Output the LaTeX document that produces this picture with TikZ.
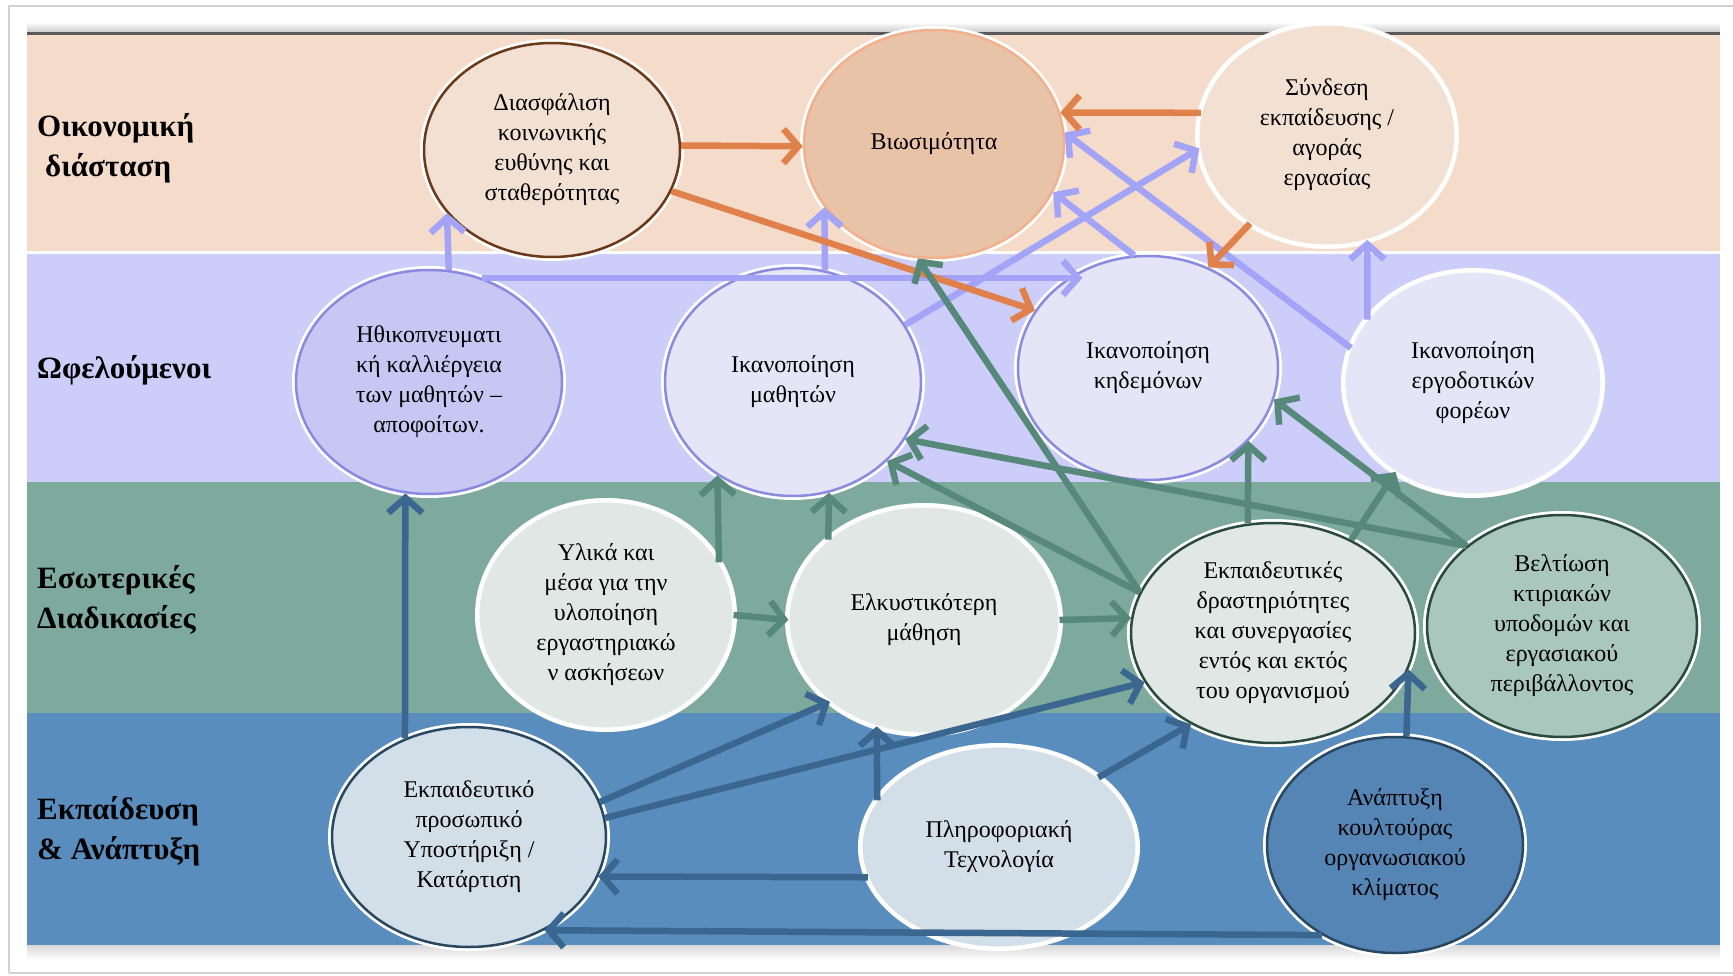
\documentclass[tikz,border=0pt]{standalone}
\usepackage{fontspec}
\setmainfont{Liberation Serif}
\usetikzlibrary{shapes.geometric,arrows.meta,shadows}

\definecolor{bandEcon}{HTML}{F5DCCA}
\definecolor{bandBen}{HTML}{CDCDFA}
\definecolor{bandProc}{HTML}{7DAA9D}
\definecolor{bandDev}{HTML}{598DBE}
\definecolor{arrOrange}{HTML}{E0804A}
\definecolor{arrLav}{HTML}{A3A3F7}
\definecolor{arrGreen}{HTML}{568979}
\definecolor{arrBlue}{HTML}{3A6690}
\definecolor{fillPeach}{HTML}{F2E0D3}
\definecolor{fillTan}{HTML}{E9C3A8}
\definecolor{fillLavDark}{HTML}{C7C7F3}
\definecolor{fillLav}{HTML}{E5E5F7}
\definecolor{fillGrey}{HTML}{E0E7E4}
\definecolor{fillSage}{HTML}{A9C7BD}
\definecolor{fillIce}{HTML}{D2DFE9}
\definecolor{fillSteel}{HTML}{5585B5}
\definecolor{outBrown}{HTML}{6B3819}
\definecolor{outOrange}{HTML}{F2B08C}
\definecolor{outPurple}{HTML}{8A8AE0}
\definecolor{outGreen}{HTML}{2B4A3E}
\definecolor{outNavy}{HTML}{284862}

\newcommand{\nodefont}{\fontsize{24}{30}\selectfont}
\newcommand{\bandfont}{\fontsize{31}{40}\selectfont\bfseries}

\begin{document}
\begin{tikzpicture}[x=1pt,y=-1pt,
  labelsty/.style={anchor=west,align=left,font=\bandfont,inner sep=0pt},
  circ/.style n args={3}{ellipse,inner sep=0pt,align=center,font=\nodefont,
    fill=#1,draw=#2,line width=#3,
    drop shadow={opacity=0.25,shadow xshift=2pt,shadow yshift=-3pt},
    preaction={draw=white,line width=8pt}},
  sz/.style 2 args={minimum width=#1,minimum height=#2},
  conn/.style={line width=6.5pt,-{Straight Barb[length=15pt,width=34pt]}},
  lavarr/.style={conn,draw=arrLav},
  orarr/.style={conn,draw=arrOrange},
  grarr/.style={conn,draw=arrGreen},
  blarr/.style={conn,draw=arrBlue}]

  \useasboundingbox (0,0) rectangle (1733,976);
  \fill[white] (0,0) rectangle (1733,976);
  \draw[gray!35,line width=1.5pt] (9,973) -- (9,6) -- (1733,6);
  \draw[gray!35,line width=1.5pt] (9,973) -- (1733,973);

  \shade[top color=white,bottom color=gray!45] (27,22) rectangle (1720,33);
  \fill[black!65] (27,32) rectangle (1720,35);
  \fill[bandEcon] (27,35) rectangle (1720,251);
  \fill[bandBen] (27,254) rectangle (1720,482);
  \fill[bandProc] (27,482) rectangle (1720,713);
  \fill[bandDev] (27,713) rectangle (1720,945);
  \shade[top color=gray!30,bottom color=white] (27,945) rectangle (1720,960);

  \node[labelsty] (lblecon) at (37,148) {Οικονομική\\\hspace*{8pt}διάσταση};
  \node[labelsty] (lblben) at (37,370) {Ωφελούμενοι};
  \node[labelsty] (lblproc) at (37,600) {Εσωτερικές\\Διαδικασίες};
  \node[labelsty] (lbldev) at (37,831) {Εκπαίδευση\\\& Ανάπτυξη};

  \node[circ={fillPeach}{outBrown}{2.5pt},sz={256pt}{214pt}] (diasf) at (552,150)
    {Διασφάλιση\\κοινωνικής\\ευθύνης και\\σταθερότητας};
  \node[circ={fillTan}{outOrange}{2.5pt},sz={260pt}{228pt}] (biosim) at (934,144)
    {Βιωσιμότητα};
  \node[circ={fillPeach}{white}{1pt},sz={256pt}{220pt}] (syndesi) at (1327,135)
    {Σύνδεση\\εκπαίδευσης /\\αγοράς\\εργασίας};

  \node[circ={fillLavDark}{outPurple}{2.5pt},sz={266pt}{224pt}] (ethik) at (429,382)
    {Ηθικοπνευματι\\κή καλλιέργεια\\των μαθητών –\\αποφοίτων.};
  \node[circ={fillLav}{outPurple}{2.5pt},sz={256pt}{228pt}] (mathit) at (793,382)
    {Ικανοποίηση\\μαθητών};
  \node[circ={fillLav}{outPurple}{2.5pt},sz={260pt}{224pt}] (kidem) at (1148,368)
    {Ικανοποίηση\\κηδεμόνων};
  \node[circ={fillLav}{white}{1pt},sz={256pt}{222pt}] (ergod) at (1473,383)
    {Ικανοποίηση\\εργοδοτικών\\φορέων};

  \node[circ={fillGrey}{white}{1pt},sz={254pt}{226pt}] (ylika) at (606,615)
    {Υλικά και\\μέσα για την\\υλοποίηση\\εργαστηριακώ\\ν ασκήσεων};
  \node[circ={fillGrey}{white}{1pt},sz={270pt}{226pt}] (elkys) at (924,620)
    {Ελκυστικότερη\\μάθηση};
  \node[circ={fillGrey}{outGreen}{2.5pt},sz={284pt}{220pt}] (drast) at (1273,633)
    {Εκπαιδευτικές\\δραστηριότητες\\και συνεργασίες\\εντός και εκτός\\του οργανισμού};
  \node[circ={fillSage}{outGreen}{2.5pt},sz={270pt}{222pt}] (veltio) at (1562,626)
    {Βελτίωση\\κτιριακών\\υποδομών και\\εργασιακού\\περιβάλλοντος};

  \node[circ={fillIce}{outNavy}{2.5pt},sz={274pt}{220pt}] (ekpp) at (469,837)
    {Εκπαιδευτικό\\προσωπικό\\Υποστήριξη /\\Κατάρτιση};
  \node[circ={fillIce}{white}{1pt},sz={274pt}{200pt}] (pliro) at (999,847)
    {Πληροφοριακή\\Τεχνολογία};
  \node[circ={fillSteel}{outNavy}{2.5pt},sz={256pt}{216pt}] (anapt) at (1395,845)
    {Ανάπτυξη\\κουλτούρας\\οργανωσιακού\\κλίματος};

  \draw[lavarr] (ethik.80) -- (diasf.211);
  \draw[lavarr,shorten >=-20pt] (ethik.63) -- (ethik.63 -| kidem.135);
  \draw[lavarr] (mathit.74) -- (biosim.210);
  \draw[lavarr] (mathit.27) -- (syndesi.186);
  \draw[lavarr] (kidem.97) -- (biosim.338);
  \draw[lavarr] (ergod.164) -- (biosim.5);
  \draw[lavarr] (ergod.149) -- (syndesi.291);

  \draw[orarr] (diasf.2) -- (biosim.181);
  \draw[orarr] (diasf.341) -- (kidem.153);
  \draw[orarr] (syndesi.170) -- (biosim.14);
  \draw[orarr] (syndesi.229) -- (kidem.59);

  \draw[grarr] (ylika.east) -- (elkys.west);
  \draw[grarr] (elkys.east) -- (drast.174);
  \draw[grarr] (ylika.25) -- (mathit.231);
  \draw[grarr] (elkys.140) -- (mathit.288);
  \draw[grarr] (drast.163) -- (biosim.262);
  \draw[grarr] (drast.163) -- (mathit.320);
  \draw[grarr] (veltio.140) -- (mathit.333);
  \draw[grarr] (veltio.140) -- (kidem.346);
  \draw[grarr] (drast.103) -- (kidem.324);
  \draw[grarr] (drast.50) -- (ergod.229);

  \draw[blarr] (ekpp.123) -- (ethik.258);
  \draw[blarr] (ekpp.15) -- (elkys.221);
  \draw[blarr] (ekpp.8) -- (drast.201);
  \draw[blarr] (pliro.193) -- (ekpp.343);
  \draw[blarr] (pliro.159) -- (elkys.246);
  \draw[blarr] (pliro.35) -- (drast.228);
  \draw[blarr] (anapt.84) -- (drast.345);
  \draw[blarr] (anapt.231) -- (ekpp.309);

\end{tikzpicture}
\end{document}
